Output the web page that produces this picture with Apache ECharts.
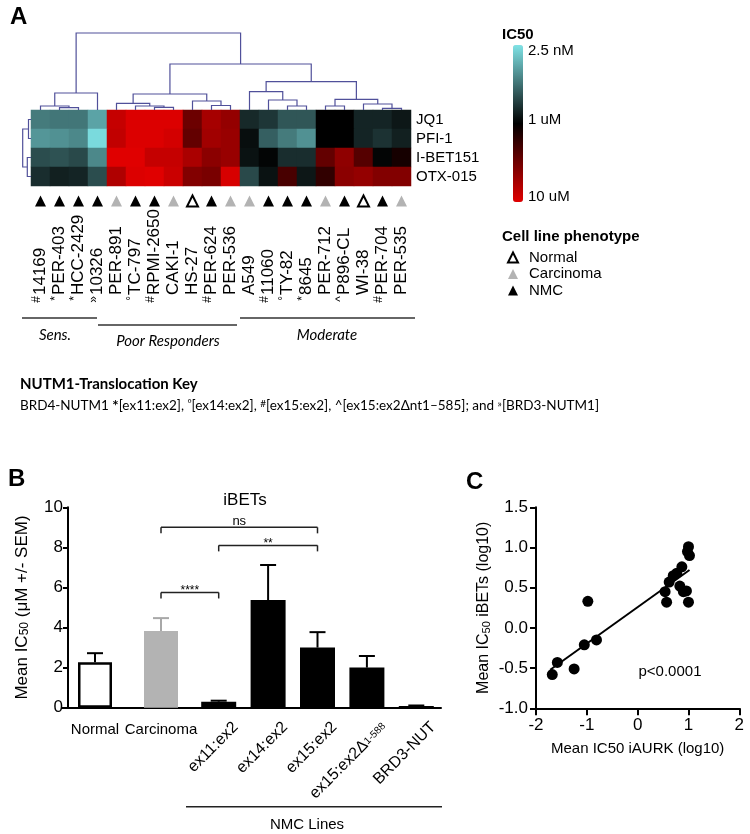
<!DOCTYPE html>
<html><head><meta charset="utf-8">
<script src="https://cdn.jsdelivr.net/npm/echarts@6/dist/echarts.min.js"></script>
<style>html,body{margin:0;padding:0;background:#fff}#c{width:750px;height:834px}</style>
</head><body><div id="c"></div>
<script>
// ---------- Panel A data ----------
const cellLines = ['14169','PER-403','HCC-2429','10326','PER-891','TC-797','RPMI-2650','CAKI-1','HS-27','PER-624','PER-536','A549','11060','TY-82','8645','PER-712','P896-CL','WI-38','PER-704','PER-535'];
const fusionMarks = ['#','*','*','»','','°','#','','','#','','','#','°','*','','^','','#',''];
const phenotypes = ['NMC','NMC','NMC','NMC','Carcinoma','NMC','NMC','Carcinoma','Normal','NMC','Carcinoma','Carcinoma','NMC','NMC','NMC','Carcinoma','NMC','Normal','NMC','Carcinoma'];
const phenoNames = ['Normal','Carcinoma','NMC'];
const drugs = ['JQ1','PFI-1','I-BET151','OTX-015'];
// colour score: 0 = 10 uM (red), 50 = 1 uM (black), 100 = 2.5 nM (cyan)
const scoreJQ1     = [77,76,76,86, 6,1,1,1,26,13,17, 59,62,69,69,50,50,58,58,55];
const scorePFI1    = [83,82,80,98, 7,1,1,3,28,14,16, 53,71,77,82,50,50,58,61,57];
const scoreIBET151 = [67,68,66,80, 0,0,6,6,12,19,16, 54,51,60,60,28,18,31,51,45];
const scoreOTX015  = [60,57,58,67,11,1,0,5,21,23, 2, 66,54,34,55,39,19,17,21,21];
const colorbarLabels = ['2.5 nM','1 uM','10 uM'];
// linkage: [childA, childB, height]; leaves 0..n-1, merges n, n+1, ...
const colLinkage = [[1,2,2.3],[0,20,4],[21,3,17],[6,7,2.7],[5,23,4],[4,24,6.7],[9,10,4.5],[8,26,9],[25,27,16],[13,14,4],[12,29,10],[11,30,18.3],[15,16,4],[18,19,1.7],[17,33,6],[32,34,10.7],[31,35,28.3],[28,36,46],[22,37,77]];
const rowLinkage = [[0,1,2.5],[2,3,3.7],[4,5,8.3]];

// ---------- Panel B data ----------
const groupsB = ['Normal','Carcinoma'];
const meanB1 = [2.27, 3.83];
const semB1 = [0.45, 0.64];
const nmcLines = ['ex11:ex2','ex14:ex2','ex15:ex2','ex15:ex2Δ1-588','BRD3-NUT'];
const meanB2 = [0.30, 5.37, 3.00, 2.00, 0.08];
const semB2 = [0.05, 1.75, 0.77, 0.58, 0.03];
const sigPairs = [['Carcinoma','ex15:ex2',9.0,'ns'],['ex11:ex2','ex15:ex2',8.1,'**'],['Carcinoma','ex11:ex2',5.75,'****']];

// ---------- Panel C data ----------
const iaurkLog = [-0.98,-1.05,-0.81,-1.58,-1.68,-1.25, 1.00,0.98,1.02,0.87,0.77,0.62,0.54,0.57,0.83,0.90,0.96,1.00,0.70];
const ibetLog  = [ 0.33,-0.21,-0.15,-0.43,-0.58,-0.51, 1.01,0.95,0.90,0.76,0.68,0.57,0.45,0.32,0.52,0.45,0.46,0.32,0.65];
const fitX = [-1.72, 1.02];
const fitY = [-0.52, 0.72];

// ---------- build ----------
const FF = '"Liberation Sans", Arial, Helvetica, sans-serif';
const FK = 'Lato, "Open Sans", sans-serif';
const DCOL = '#50509a';
const chart = echarts.init(document.getElementById('c'));

const heatData = [];
[scoreJQ1, scorePFI1, scoreIBET151, scoreOTX015].forEach((r, j) => r.forEach((v, i) => heatData.push([i, j, v])));

function dendro(linkage, n) {
  const pos = [], h = [];
  for (let i = 0; i < n; i++) { pos[i] = i + 0.5; h[i] = 0; }
  return linkage.map((m, k) => {
    const [a, b, ht] = m, id = n + k;
    pos[id] = (pos[a] + pos[b]) / 2; h[id] = ht;
    return [pos[a], h[a], pos[b], h[b], ht];
  });
}
const colSeg = dendro(colLinkage, 20);
const rowSeg = dendro(rowLinkage, 4);

const hid = (type, grid, extra) => Object.assign({type, gridIndex: grid, show: false}, extra || {});
const axisBlack = {lineStyle: {color: '#000', width: 2}};

const option = {
  animation: false,
  textStyle: {fontFamily: FF},
  grid: [
    {left: 31, top: 110, width: 380, height: 76, outerBoundsMode: 'none'},
    {left: 31, top: 33, width: 380, height: 77, outerBoundsMode: 'none'},
    {left: 22.7, top: 110, width: 8.3, height: 76, outerBoundsMode: 'none'},
    {left: 31, top: 195, width: 380, height: 12, outerBoundsMode: 'none'},
    {left: 62, top: 507.3, width: 132, height: 200.4, outerBoundsMode: 'none'},
    {left: 194, top: 507.3, width: 247, height: 200.4, outerBoundsMode: 'none'},
    {left: 536, top: 507.3, width: 203.3, height: 201, outerBoundsMode: 'none'}
  ],
  xAxis: [
    {type: 'category', gridIndex: 0, data: cellLines, position: 'bottom', axisLine: {show: false}, axisTick: {show: false}, splitLine: {show: false},
     axisLabel: {interval: 0, rotate: 90, align: 'left', verticalAlign: 'middle', margin: 109, fontSize: 17, color: '#000', fontFamily: FF}},
    {type: 'category', gridIndex: 0, data: cellLines, position: 'bottom', axisLine: {show: false}, axisTick: {show: false}, splitLine: {show: false},
     axisLabel: {interval: 0, rotate: 90, align: 'right', verticalAlign: 'bottom', lineHeight: 8, margin: 110, fontSize: 12, color: '#000', fontFamily: FF,
       formatter: (v, i) => fusionMarks[i]}},
    hid('value', 1, {min: 0, max: 20}),
    hid('value', 2, {min: 0, max: 8.3, inverse: true}),
    hid('category', 3, {data: cellLines}),
    {type: 'category', gridIndex: 4, data: groupsB, axisLine: axisBlack, axisTick: {alignWithLabel: true, length: 7, lineStyle: {color: '#000', width: 2}},
     axisLabel: {interval: 0, fontSize: 15, color: '#000', margin: 15, fontFamily: FF}, splitLine: {show: false}},
    {type: 'category', gridIndex: 5, data: nmcLines, axisLine: axisBlack, axisTick: {alignWithLabel: true, length: 7, lineStyle: {color: '#000', width: 2}},
     axisLabel: {interval: 0, rotate: 45, align: 'right', verticalAlign: 'top', padding: [16, 0, 0, 0], fontSize: 16, color: '#000', margin: 0, fontFamily: FF,
       formatter: v => v.replace('Δ1-588', 'Δ{s|1-588}'), rich: {s: {fontSize: 10, fontFamily: FF, color: '#000'}}}, splitLine: {show: false}},
    {type: 'value', gridIndex: 6, min: -2, max: 2, interval: 1, axisLine: {show: true, onZero: false, lineStyle: {color: '#000', width: 2}},
     axisTick: {show: true, length: 7, lineStyle: {color: '#000', width: 2}}, splitLine: {show: false},
     axisLabel: {fontSize: 17, color: '#000', margin: 9, fontFamily: FF},
     name: 'Mean IC50 iAURK (log10)', nameLocation: 'middle', nameGap: 33, nameTextStyle: {fontSize: 15, color: '#000', fontFamily: FF}}
  ],
  yAxis: [
    {type: 'category', gridIndex: 0, data: drugs, inverse: true, position: 'right', axisLine: {show: false}, axisTick: {show: false}, splitLine: {show: false},
     axisLabel: {interval: 0, fontSize: 15, color: '#000', margin: 5, fontFamily: FF}},
    hid('value', 1, {min: 0, max: 77}),
    hid('value', 2, {min: 0, max: 4, inverse: true}),
    hid('value', 3, {min: -1, max: 1}),
    {type: 'value', gridIndex: 4, min: 0, max: 10, interval: 2, offset: -6, axisLine: {show: true, lineStyle: {color: '#000', width: 2}},
     axisTick: {show: true, length: 5, lineStyle: {color: '#000', width: 2}}, splitLine: {show: false},
     axisLabel: {fontSize: 17, color: '#000', margin: 5, fontFamily: FF},
     name: 'Mean IC{s|50} (μM +/- SEM)', nameLocation: 'middle', nameGap: 37,
     nameTextStyle: {fontSize: 17, color: '#000', fontFamily: FF, rich: {s: {fontSize: 12, color: '#000', fontFamily: FF, verticalAlign: 'bottom'}}}},
    hid('value', 5, {min: 0, max: 10}),
    {type: 'value', gridIndex: 6, min: -1, max: 1.5, interval: 0.5, axisLine: {show: true, onZero: false, lineStyle: {color: '#000', width: 2}},
     axisTick: {show: true, length: 6, lineStyle: {color: '#000', width: 2}}, splitLine: {show: false},
     axisLabel: {fontSize: 17, color: '#000', margin: 8, fontFamily: FF, formatter: v => v.toFixed(1)},
     name: 'Mean IC{s|50} iBETs (log10)', nameLocation: 'middle', nameGap: 44,
     nameTextStyle: {fontSize: 16, color: '#000', fontFamily: FF, rich: {s: {fontSize: 11, color: '#000', fontFamily: FF, verticalAlign: 'bottom'}}}}
  ],
  visualMap: [{
    type: 'continuous', seriesIndex: 0, min: 0, max: 100, orient: 'vertical', left: 513, top: 45, itemWidth: 10, itemHeight: 157,
    padding: 0, calculable: false, hoverLink: false, text: null, inRange: {color: ['#e00000', '#000000', '#7fe3e6']}
  }],
  legend: {
    data: phenoNames, orient: 'vertical', left: 502, top: 245, itemWidth: 10, itemHeight: 10, itemGap: 1.5, selectedMode: false,
    textStyle: {fontSize: 15, color: '#000', fontFamily: FF, padding: [0, 0, 0, 6], lineHeight: 15}
  },
  series: [
    {type: 'heatmap', xAxisIndex: 0, yAxisIndex: 0, data: heatData, itemStyle: {borderWidth: 0}, emphasis: {disabled: true}},
    {type: 'custom', xAxisIndex: 2, yAxisIndex: 1, data: colSeg, silent: true,
     renderItem: (p, api) => ({type: 'polyline', shape: {points: [[api.value(0), api.value(1)], [api.value(0), api.value(4)], [api.value(2), api.value(4)], [api.value(2), api.value(3)]].map(q => api.coord(q))},
       style: {stroke: DCOL, lineWidth: 1.2, fill: null}})},
    {type: 'custom', xAxisIndex: 3, yAxisIndex: 2, data: rowSeg, silent: true,
     renderItem: (p, api) => ({type: 'polyline', shape: {points: [[api.value(1), api.value(0)], [api.value(4), api.value(0)], [api.value(4), api.value(2)], [api.value(3), api.value(2)]].map(q => api.coord(q))},
       style: {stroke: DCOL, lineWidth: 1.2, fill: null}})},
    ...phenoNames.map(name => ({
      type: 'scatter', name, xAxisIndex: 4, yAxisIndex: 3, symbol: 'triangle', symbolSize: [11, 11],
      data: phenotypes.map((p, i) => p === name ? [i, 0] : null).filter(d => d),
      itemStyle: name === 'Normal' ? {color: '#fff', borderColor: '#000', borderWidth: 2, opacity: 1} : {color: name === 'NMC' ? '#000' : '#b3b3b3', opacity: 1}
    })),
    {type: 'bar', xAxisIndex: 5, yAxisIndex: 4, barWidth: 34,
     data: meanB1.map((v, i) => ({value: v, itemStyle: i === 0 ? {color: '#fff', borderColor: '#000', borderWidth: 2.5} : {color: '#b3b3b3'}}))},
    {type: 'custom', xAxisIndex: 5, yAxisIndex: 4, data: meanB1.map((m, i) => [i, m, semB1[i]]), z: 5,
     renderItem: (p, api) => errBar(api, p.dataIndex === 1 ? '#a8a8a8' : '#000')},
    {type: 'bar', xAxisIndex: 6, yAxisIndex: 5, barWidth: 35, itemStyle: {color: '#000'}, data: meanB2},
    {type: 'custom', xAxisIndex: 6, yAxisIndex: 5, data: meanB2.map((m, i) => [i, m, semB2[i]]), z: 5,
     renderItem: (p, api) => errBar(api, '#000')},
    {type: 'scatter', xAxisIndex: 7, yAxisIndex: 6, symbolSize: 11, itemStyle: {color: '#000', opacity: 1}, data: iaurkLog.map((x, i) => [x, ibetLog[i]]), z: 3},
    {type: 'line', xAxisIndex: 7, yAxisIndex: 6, symbol: 'none', lineStyle: {color: '#000', width: 2}, data: fitX.map((x, i) => [x, fitY[i]]), z: 4}
  ]
};

function errBar(api, color) {
  const x = api.value(0), m = api.value(1), s = api.value(2);
  const b = api.coord([x, m]), t = api.coord([x, m + s]);
  const hw = 8;
  return {type: 'group', children: [
    {type: 'line', shape: {x1: b[0], y1: b[1], x2: t[0], y2: t[1]}, style: {stroke: color, lineWidth: 2}},
    {type: 'line', shape: {x1: t[0] - hw, y1: t[1], x2: t[0] + hw, y2: t[1]}, style: {stroke: color, lineWidth: 2}}
  ]};
}

chart.setOption(option);

// ---------- annotations ----------
const g = [];
const txt = (x, y, text, style) => g.push({type: 'text', x, y, silent: true,
  style: Object.assign({text, fill: '#000', fontFamily: FF, fontSize: 15, textAlign: 'left', textVerticalAlign: 'middle'}, style || {})});
const seg = (x1, y1, x2, y2, w, c) => g.push({type: 'line', silent: true, shape: {x1, y1, x2, y2}, style: {stroke: c || '#000', lineWidth: w || 1.5}});

txt(10, 17, 'A', {fontSize: 24, fontWeight: 'bold'});
txt(8, 479, 'B', {fontSize: 24, fontWeight: 'bold'});
txt(466, 482, 'C', {fontSize: 24, fontWeight: 'bold'});

// colour bar labels
txt(502, 35, 'IC50', {fontWeight: 'bold'});
txt(528, 51, colorbarLabels[0]);
txt(528, 120, colorbarLabels[1]);
txt(528, 197, colorbarLabels[2]);
txt(502, 237, 'Cell line phenotype', {fontWeight: 'bold'});

// response groups
seg(22, 318, 97, 318, 1.5, '#333');
seg(98, 325, 237, 325, 1.5, '#333');
seg(240, 318, 415, 318, 1.5, '#333');
txt(55, 335, 'Sens.', {fontFamily: FK, fontStyle: 'italic', textAlign: 'center'});
txt(168, 341, 'Poor Responders', {fontFamily: FK, fontStyle: 'italic', textAlign: 'center'});
txt(327, 335, 'Moderate', {fontFamily: FK, fontStyle: 'italic', textAlign: 'center'});

// key
txt(20, 384, 'NUTM1-Translocation Key', {fontFamily: FK, fontWeight: 'bold', fontSize: 15});
g.push({type: 'text', x: 20, y: 406, silent: true, style: {
  text: 'BRD4-NUTM1 {b|*}[ex11:ex2], {sup|°}[ex14:ex2], {sup|#}[ex15:ex2], ^[ex15:ex2Δnt1–585]; and {sup|»}[BRD3-NUTM1]',
  fill: '#000', fontFamily: FK, fontSize: 13.5, textVerticalAlign: 'middle',
  rich: {b: {fontFamily: FK, fontSize: 15, fontWeight: 'bold', fill: '#000'}, sup: {fontFamily: FK, fontSize: 10, verticalAlign: 'top', fill: '#000'}}
}});

// panel B decorations
txt(245, 500, 'iBETs', {fontSize: 17, textAlign: 'center'});
function ptB(cat, val) {
  let i = groupsB.indexOf(cat);
  if (i >= 0) return chart.convertToPixel({gridIndex: 4}, [i, val]);
  return chart.convertToPixel({gridIndex: 5}, [nmcLines.indexOf(cat), val]);
}
sigPairs.forEach(([a, b, y, lab]) => {
  const p1 = ptB(a, y), p2 = ptB(b, y);
  const c = '#222';
  seg(p1[0], p1[1], p2[0], p2[1], 1.5, c);
  seg(p1[0], p1[1], p1[0], p1[1] + 6, 1.5, c);
  seg(p2[0], p2[1], p2[0], p2[1] + 6, 1.5, c);
  txt((p1[0] + p2[0]) / 2, p1[1] - (lab === 'ns' ? 6 : 2), lab, {fontSize: lab === 'ns' ? 13 : 12, textAlign: 'center'});
});
seg(186, 806.7, 442, 806.7, 1.5, '#222');
txt(307, 825, 'NMC Lines', {fontSize: 15, textAlign: 'center'});

// panel C annotation
txt(670, 672, 'p<0.0001', {fontSize: 15, textAlign: 'center'});

chart.setOption({graphic: g});
</script></body></html>
